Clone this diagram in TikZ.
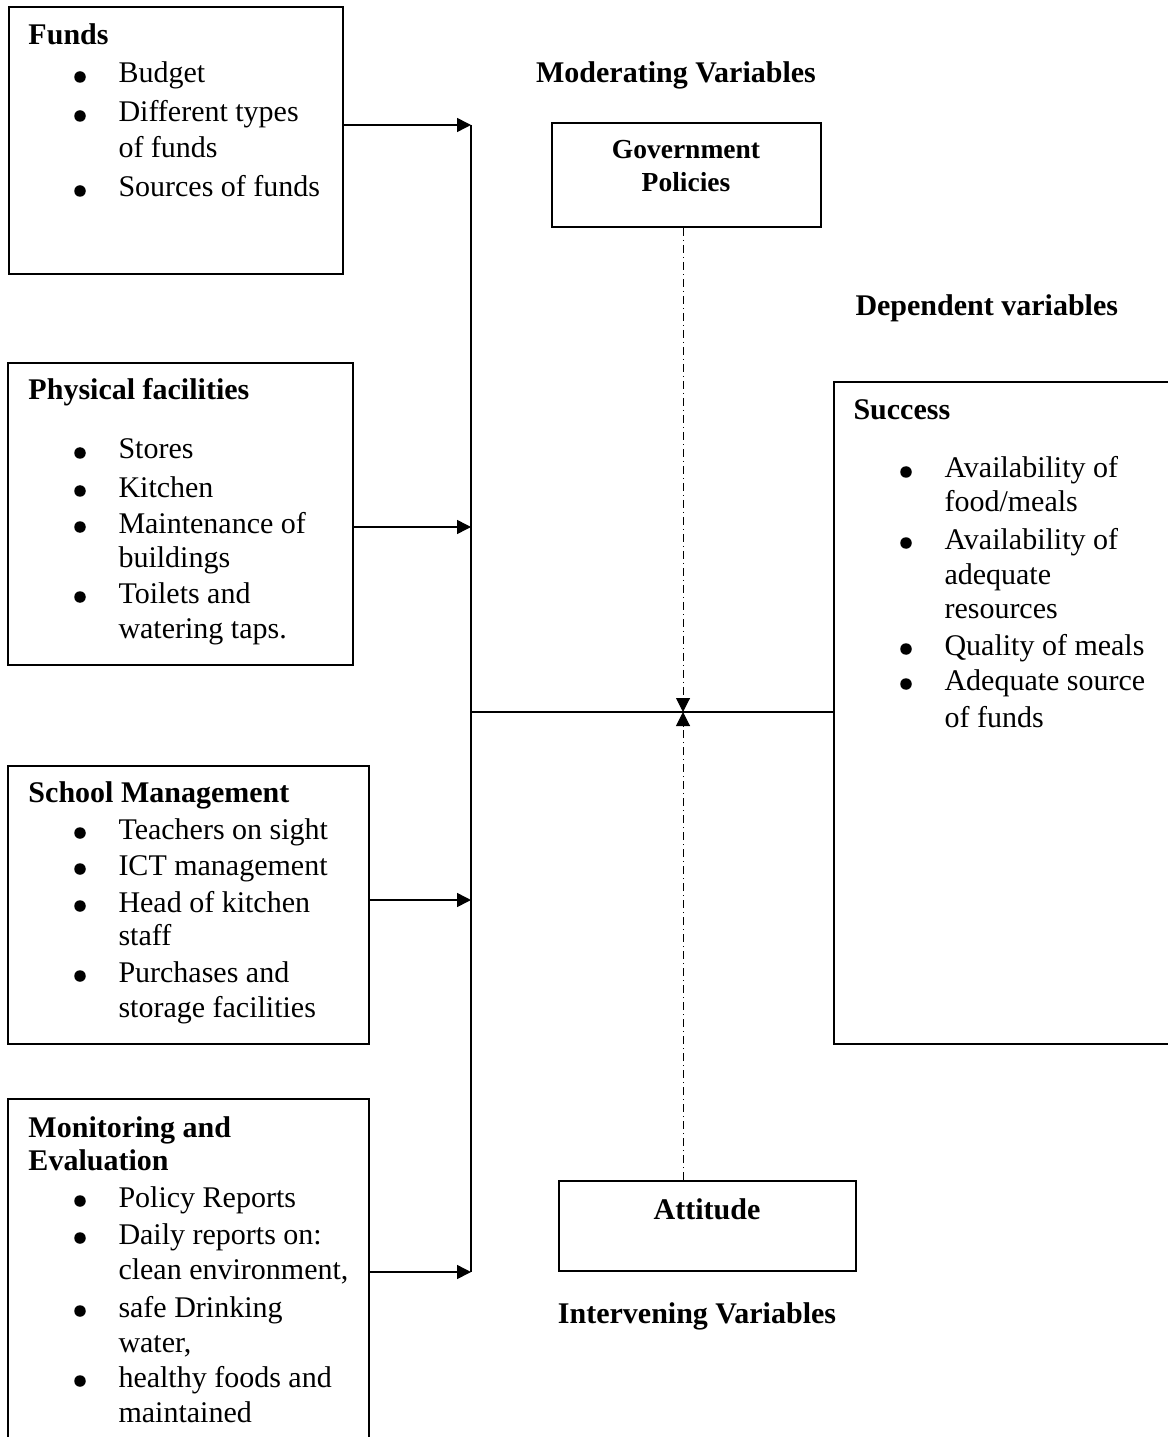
\documentclass[tikz,border=0pt,12pt]{standalone}
\usepackage{fontspec}
\setmainfont{Liberation Serif}
\usetikzlibrary{arrows.meta,fit}

\tikzset{
  box/.style={draw, line width=0.7pt, inner sep=0pt},
  txt/.style={anchor=base west, inner sep=0pt},
  hd/.style={txt, font=\bfseries},
  ctr/.style={anchor=base, inner sep=0pt, font=\bfseries},
  dot/.style={circle, fill, inner sep=0pt, minimum size=4.6pt},
  conn/.style={line width=0.6pt, -{Triangle[length=5.6pt,width=5.6pt]}},
  dd/.style={line width=0.4pt, dash pattern={on 3.2pt off 1.6pt on 0.4pt off 1.6pt}, -{Triangle[length=5.6pt,width=5.6pt]}}
}

\begin{document}
\begin{tikzpicture}[x=0.4pt,y=0.4pt,yscale=-1,xscale=1]
\useasboundingbox (0,0) rectangle (1167,1437);

% boxes
\node[box, fit={(9,7) (343,274)}] (funds) {};
\node[box, fit={(8,363) (353,665)}] (phys) {};
\node[box, fit={(8,766) (369,1044)}] (school) {};
\node[box, fit={(8,1099) (369,1460)}] (monit) {};
\node[box, fit={(552,123) (821,227)}] (gov) {};
\node[box, fit={(559,1181) (856,1271)}] (att) {};
\node[box, fit={(834,382) (1185,1044)}] (succ) {};

% Funds
\node[hd] (funds-t) at (28,45) {Funds};
\node[dot] (funds-d1) at (80,77) {};
\node[txt] (funds-1) at (118,83) {Budget};
\node[dot] (funds-d2) at (80,116) {};
\node[txt] (funds-2) at (118,122) {Different types};
\node[txt] (funds-2b) at (118,158) {of funds};
\node[dot] (funds-d3) at (80,191) {};
\node[txt] (funds-3) at (118,197) {Sources of funds};

% Physical facilities
\node[hd] (phys-t) at (28,400) {Physical facilities};
\node[dot] (phys-d1) at (80,453) {};
\node[txt] (phys-1) at (118,459) {Stores};
\node[dot] (phys-d2) at (80,491) {};
\node[txt] (phys-2) at (118,497) {Kitchen};
\node[dot] (phys-d3) at (80,527) {};
\node[txt] (phys-3) at (118,533) {Maintenance of};
\node[txt] (phys-3b) at (118,567) {buildings};
\node[dot] (phys-d4) at (80,597) {};
\node[txt] (phys-4) at (118,603) {Toilets and};
\node[txt] (phys-4b) at (118,638) {watering taps.};

% School Management
\node[hd] (school-t) at (28,802) {School Management};
\node[dot] (school-d1) at (80,833) {};
\node[txt] (school-1) at (118,839) {Teachers on sight};
\node[dot] (school-d2) at (80,869) {};
\node[txt] (school-2) at (118,875) {ICT management};
\node[dot] (school-d3) at (80,906) {};
\node[txt] (school-3) at (118,912) {Head of kitchen};
\node[txt] (school-3b) at (118,945) {staff};
\node[dot] (school-d4) at (80,976) {};
\node[txt] (school-4) at (118,982) {Purchases and};
\node[txt] (school-4b) at (118,1017) {storage facilities};

% Monitoring and Evaluation
\node[hd] (monit-t) at (28,1137) {Monitoring and};
\node[hd] (monit-tb) at (28,1170) {Evaluation};
\node[dot] (monit-d1) at (80,1201) {};
\node[txt] (monit-1) at (118,1207) {Policy Reports};
\node[dot] (monit-d2) at (80,1238) {};
\node[txt] (monit-2) at (118,1244) {Daily reports on:};
\node[txt] (monit-2b) at (118,1279) {clean environment,};
\node[dot] (monit-d3) at (80,1311) {};
\node[txt] (monit-3) at (118,1317) {safe Drinking};
\node[txt] (monit-3b) at (118,1352) {water,};
\node[dot] (monit-d4) at (80,1381) {};
\node[txt] (monit-4) at (118,1387) {healthy foods and};
\node[txt] (monit-4b) at (118,1422) {maintained};

% Success
\node[hd] (succ-t) at (853,420) {Success};
\node[dot] (succ-d1) at (906,472) {};
\node[txt] (succ-1) at (944,478) {Availability of};
\node[txt] (succ-1b) at (944,512) {food/meals};
\node[dot] (succ-d2) at (906,543) {};
\node[txt] (succ-2) at (944,549) {Availability of};
\node[txt] (succ-2b) at (944,584) {adequate};
\node[txt] (succ-2c) at (944,618) {resources};
\node[dot] (succ-d3) at (906,649) {};
\node[txt] (succ-3) at (944,655) {Quality of meals};
\node[dot] (succ-d4) at (906,684) {};
\node[txt] (succ-4) at (944,690) {Adequate source};
\node[txt] (succ-4b) at (944,727) {of funds};

% headings and middle boxes
\node[ctr] (modv) at (676,83) {Moderating Variables};
\node[hd] (depv) at (855,316) {Dependent variables};
\node[ctr] (intv) at (697,1323) {Intervening Variables};
\node[ctr, font=\fontsize{11}{13}\selectfont\bfseries] (gov-1) at (686,159) {Government};
\node[ctr, font=\fontsize{11}{13}\selectfont\bfseries] (gov-2) at (686,192) {Policies};
\node[ctr] (att-t) at (707,1219) {Attitude};

% connectors
\coordinate (b1) at (471,125);
\coordinate (b2) at (471,527);
\coordinate (b3) at (471,900);
\coordinate (b4) at (471,1272);
\coordinate (hubw) at (471,712);
\coordinate (hub) at (683,712);

\draw[line width=0.6pt] (b1) -- (b4);
\draw[conn] (funds.east |- b1) -- (b1);
\draw[conn] (phys.east |- b2) -- (b2);
\draw[conn] (school.east |- b3) -- (b3);
\draw[conn] (monit.east |- b4) -- (b4);
\draw[line width=0.6pt] (hubw) -- (succ.west |- hubw);
\draw[dd] (gov.south -| hub) -- (hub);
\draw[dd] (att.north -| hub) -- (hub);
\end{tikzpicture}
\end{document}
